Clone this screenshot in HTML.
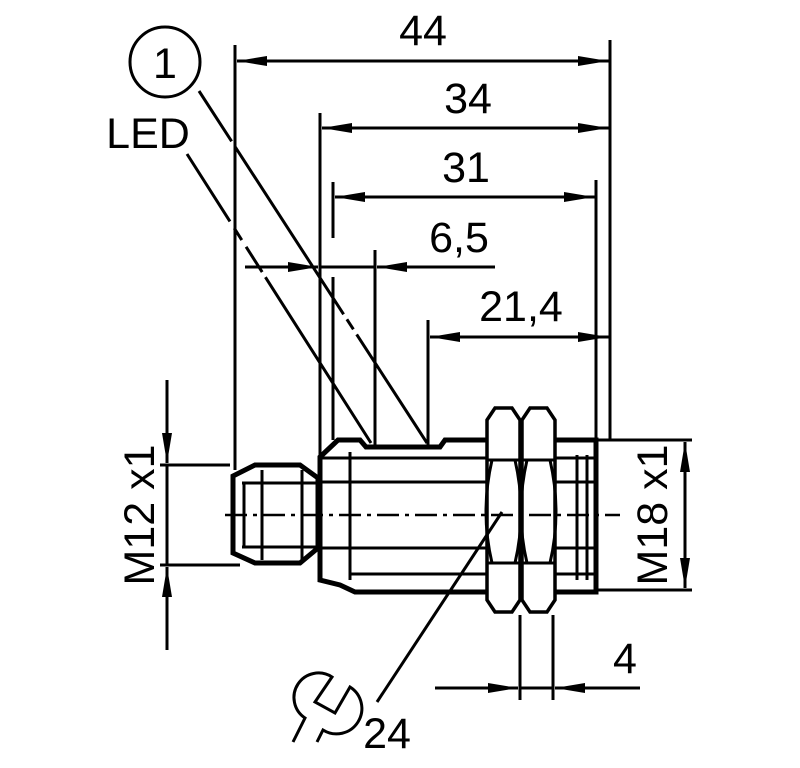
<!DOCTYPE html>
<html><head><style>body{margin:0;background:#fff}svg{display:block}</style></head><body>
<svg width="800" height="768" viewBox="0 0 800 768" xmlns="http://www.w3.org/2000/svg" font-family="Liberation Sans, sans-serif">
<defs>
<marker id="a" viewBox="0 0 30 10" refX="30" refY="5" markerWidth="30" markerHeight="10" markerUnits="userSpaceOnUse" orient="auto"><path d="M0,0 L30,5 L0,10 Z" fill="#000"/></marker>
</defs>
<g stroke="#000" stroke-width="3" fill="none">
<line x1="235" y1="45" x2="235" y2="470"/>
<line x1="320" y1="113" x2="320" y2="455"/>
<line x1="333" y1="182" x2="333" y2="238"/>
<line x1="333" y1="277" x2="333" y2="440"/>
<line x1="375" y1="250" x2="375" y2="445"/>
<line x1="428" y1="320" x2="428" y2="445"/>
<line x1="610" y1="40" x2="610" y2="440"/>
<line x1="596" y1="180" x2="596" y2="440"/>
<line x1="610" y1="61" x2="237" y2="61" marker-end="url(#a)"/>
<line x1="237" y1="61" x2="608" y2="61" marker-end="url(#a)"/>
<line x1="610" y1="128" x2="322" y2="128" marker-end="url(#a)"/>
<line x1="322" y1="128" x2="608" y2="128" marker-end="url(#a)"/>
<line x1="596" y1="197" x2="335" y2="197" marker-end="url(#a)"/>
<line x1="335" y1="197" x2="594" y2="197" marker-end="url(#a)"/>
<line x1="245" y1="267" x2="318" y2="267" marker-end="url(#a)"/>
<line x1="320" y1="267" x2="375" y2="267"/>
<line x1="495" y1="267" x2="377" y2="267" marker-end="url(#a)"/>
<line x1="610" y1="337" x2="430" y2="337" marker-end="url(#a)"/>
<line x1="430" y1="337" x2="608" y2="337" marker-end="url(#a)"/>
<circle cx="165" cy="62" r="35"/>
<line x1="199" y1="91" x2="427" y2="443" stroke-dasharray="60,6,200,6,12,6,200"/>
<line x1="187" y1="154" x2="371" y2="443" stroke-dasharray="80,8,14,8,30,6,200"/>
<line x1="160" y1="465" x2="230" y2="465"/>
<line x1="160" y1="565" x2="240" y2="565"/>
<line x1="167" y1="380" x2="167" y2="463" marker-end="url(#a)"/>
<line x1="167" y1="650" x2="167" y2="567" marker-end="url(#a)"/>
<line x1="167" y1="465" x2="167" y2="565"/>
<line x1="598" y1="440" x2="692" y2="440"/>
<line x1="598" y1="590" x2="692" y2="590"/>
<line x1="685" y1="515" x2="685" y2="442" marker-end="url(#a)"/>
<line x1="685" y1="515" x2="685" y2="588" marker-end="url(#a)"/>
<line x1="520" y1="615" x2="520" y2="700"/>
<line x1="553" y1="615" x2="553" y2="700"/>
<line x1="435" y1="688" x2="518" y2="688" marker-end="url(#a)"/>
<line x1="640" y1="688" x2="555" y2="688" marker-end="url(#a)"/>
<line x1="520" y1="688" x2="553" y2="688"/>
</g>
<g stroke="#000" fill="#fff">
<path d="M233,476 L233,553 L255,563 L300,563 L318,548 L318,478 L300,465 L255,465 Z" stroke-width="5"/>
<path d="M320,457 L338,440 L360,440 L366,447 L440,447 L445,440 L596,440 L596,592 L355,592 L340,585 L320,580 Z" stroke-width="5"/>
<path d="M487,420 L495,408 L512,408 L520,420 L520,600 L512,612 L495,612 L487,600 Z" stroke-width="3.5"/>
<path d="M522,420 L530,408 L547,408 L555,420 L555,600 L547,612 L530,612 L522,600 Z" stroke-width="3.5"/>
</g>
<g stroke="#000" stroke-width="3" fill="none">
<line x1="242" y1="483" x2="318" y2="483"/>
<line x1="242" y1="547" x2="318" y2="547"/>
<line x1="262" y1="470" x2="262" y2="560"/>
<line x1="302" y1="470" x2="302" y2="560"/>
<line x1="244" y1="483" x2="244" y2="547"/>
<line x1="322" y1="458" x2="487" y2="458"/>
<line x1="322" y1="482" x2="487" y2="482"/>
<line x1="322" y1="548" x2="487" y2="548"/>
<line x1="350" y1="574" x2="487" y2="574"/>
<line x1="555" y1="458" x2="596" y2="458"/>
<line x1="555" y1="482" x2="596" y2="482"/>
<line x1="555" y1="548" x2="596" y2="548"/>
<line x1="555" y1="574" x2="596" y2="574"/>
<line x1="350" y1="452" x2="350" y2="580"/>
<line x1="577" y1="455" x2="577" y2="580"/>
<line x1="587" y1="455" x2="587" y2="580"/>
<line x1="487" y1="460" x2="555" y2="460"/>
<line x1="487" y1="563" x2="555" y2="563"/>
<path d="M492,460 Q480,512 492,563 M515,460 Q527,512 515,563 M527,460 Q515,512 527,563 M550,460 Q562,512 550,563"/>
<line x1="225" y1="515" x2="620" y2="515" stroke-dasharray="22,6,4,6" stroke-width="2.5"/>
<line x1="502" y1="512" x2="377" y2="702" stroke-width="3"/>
<path d="M293,742 L305,718 A21,21 0 0 1 332,677 L315,702 L335,713 L350,687 A21,21 0 0 1 323,730 L317,742" stroke-width="3"/>
</g>
<g font-size="43" fill="#000" text-anchor="middle">
<text x="423" y="45">44</text>
<text x="468" y="113">34</text>
<text x="466" y="182">31</text>
<text x="459" y="252">6,5</text>
<text x="521" y="321">21,4</text>
<text x="148" y="148">LED</text>
<text x="165" y="78">1</text>
<text x="625" y="673">4</text>
<text x="387" y="748">24</text>
<text transform="translate(154,515) rotate(-90)">M12 x1</text>
<text transform="translate(667,515) rotate(-90)">M18 x1</text>
</g>
</svg>
</body></html>
